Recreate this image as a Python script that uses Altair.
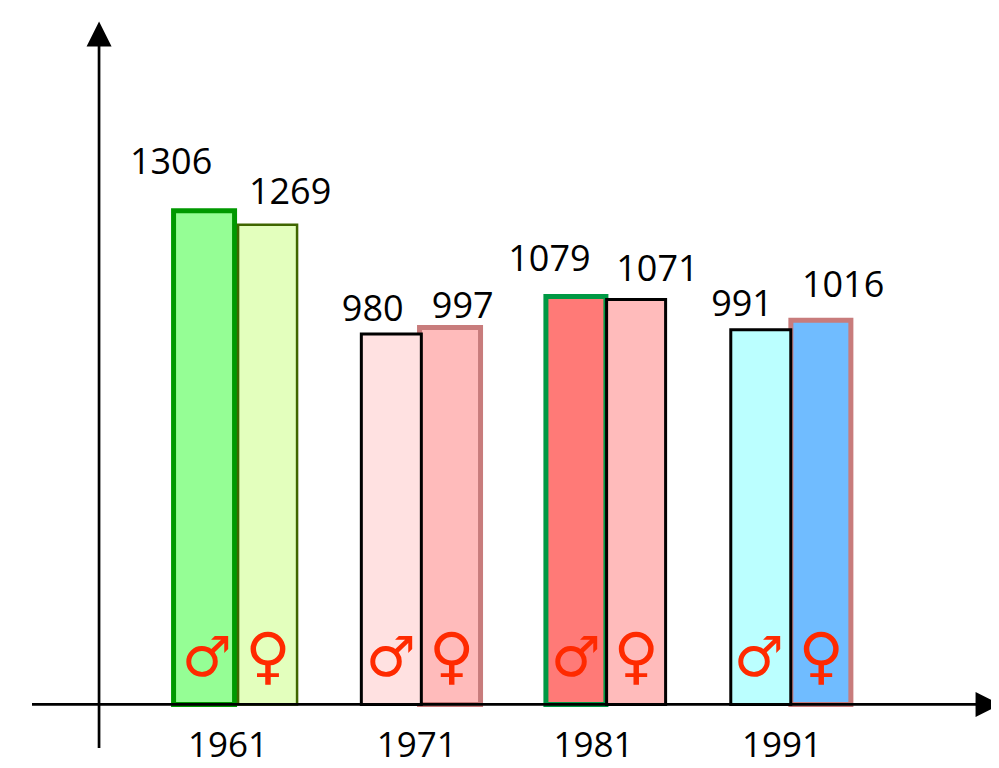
import altair as alt
import pandas as pd

years = [1961, 1961, 1971, 1971, 1981, 1981, 1991, 1991]
sexes = ["M", "F", "M", "F", "M", "F", "M", "F"]
values = [1306, 1269, 980, 997, 1079, 1071, 991, 1016]
year_labels = [1961, 1971, 1981, 1991]
FONT = "Open Sans"
SYMBOL_FONT = "DejaVu Sans"

fills = ["#95FE95", "#E3FFBD", "#FFE1E1", "#FFBBBB", "#FF7A77", "#FFBBBB", "#BBFFFF", "#70BCFF"]
strokes = ["#009900", "#3F6600", "#000000", "#C87C7C", "#009944", "#000000", "#000000", "#C87C7C"]
stroke_w = [5, 2.5, 3, 5, 5, 3, 3, 5]
bar_w = [61, 59, 60, 61, 60, 59, 60, 60]
bar_off = [-32, 31.5, -29.4, 29.3, -29.5, 30.7, -29.3, 30.8]
label_dx = [-65, 54, -48, 42, -56, 52, -48, 53]
label_dy = [-37, -21, -13, -9, -25, -18, -14, -23]
sym_dx = [-29, 32, -29.7, 31, -29.3, 30.7, -31, 31]
year_dx = [-8, -4, -12, -8]
draw_order = [0, 3, 4, 7, 1, 2, 5, 6]

x_scale = alt.Scale(domain=[1948.65, 2001.88], nice=False, zero=False, padding=0)
y_scale = alt.Scale(domain=[-147, 1842], nice=False, zero=False, padding=0)
X = lambda f: alt.X(f, type="quantitative", scale=x_scale, axis=None)
Y = lambda f: alt.Y(f, type="quantitative", scale=y_scale, axis=None)

layers = []
for i in draw_order:
    d = pd.DataFrame({"year": [years[i]], "value": [values[i]], "base": [0]})
    layers.append(
        alt.Chart(d)
        .mark_bar(width=bar_w[i], xOffset=bar_off[i], fill=fills[i], stroke=strokes[i],
                  strokeWidth=stroke_w[i], opacity=1, cornerRadius=0, strokeJoin="miter")
        .encode(x=X("year"), y=Y("value"), y2=alt.Y2("base"))
    )

axis_h = pd.DataFrame({"x1": [1949.95], "x2": [2001.3], "y": [0]})
axis_v = pd.DataFrame({"x": [1953.58], "y1": [-115], "y2": [1745]})
layers.append(
    alt.Chart(axis_h).mark_rule(color="#000000", strokeWidth=2.7)
    .encode(x=X("x1"), x2=alt.X2("x2"), y=Y("y"))
)
layers.append(
    alt.Chart(axis_v).mark_rule(color="#000000", strokeWidth=2.7)
    .encode(x=X("x"), y=Y("y1"), y2=alt.Y2("y2"))
)
arrow_up = pd.DataFrame({"x": [1953.58], "y": [1773]})
arrow_right = pd.DataFrame({"x": [2001.72], "y": [0]})
layers.append(
    alt.Chart(arrow_up).mark_point(shape="M0,-1L1,1L-1,1Z", size=625, filled=True, fill="#000", stroke=None, opacity=1)
    .encode(x=X("x"), y=Y("y"))
)
layers.append(
    alt.Chart(arrow_right).mark_point(shape="M1,0L-1,1L-1,-1Z", size=625, filled=True, fill="#000", stroke=None, opacity=1)
    .encode(x=X("x"), y=Y("y"))
)

for i in range(8):
    d = pd.DataFrame({"year": [years[i]], "value": [values[i]], "t": [str(values[i])]})
    layers.append(
        alt.Chart(d).mark_text(font=FONT, fontSize=36, color="#000", align="center", baseline="alphabetic",
                               dx=label_dx[i], dy=label_dy[i])
        .encode(x=X("year"), y=Y("value"), text="t:N")
    )
    male = sexes[i] == "M"
    sym = "♂" if male else "♀"
    d2 = pd.DataFrame({"year": [years[i]], "value": [0], "t": [sym]})
    layers.append(
        alt.Chart(d2).mark_text(font=SYMBOL_FONT, fontWeight="bold", fontSize=56 if male else 62,
                                color="#FF2A00", align="center", baseline="alphabetic",
                                dx=sym_dx[i], dy=-28 if male else -27)
        .encode(x=X("year"), y=Y("value"), text="t:N")
    )

for yr, dx in zip(year_labels, year_dx):
    d = pd.DataFrame({"year": [yr], "value": [0], "t": [str(yr)]})
    layers.append(
        alt.Chart(d).mark_text(font=FONT, fontSize=35, color="#000", align="center", baseline="alphabetic",
                               dx=dx, dy=53)
        .encode(x=X("year"), y=Y("value"), text="t:N")
    )

chart = alt.layer(*layers).properties(
    width=983, height=752, padding=0, autosize=alt.AutoSizeParams(type="none"), background="#ffffff"
).configure_view(stroke=None)

chart.save("out.html", embed_options={"renderer": "svg", "actions": False})
